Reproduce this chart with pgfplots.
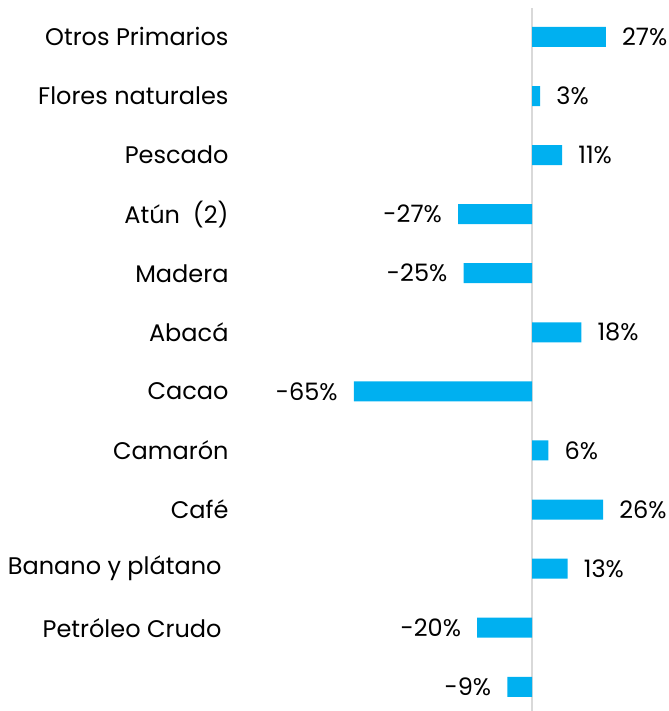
\documentclass[border=0pt]{standalone}
\usepackage{fontspec}
\setmainfont{Poppins}
\usepackage{pgfplots}
\pgfplotsset{compat=1.18}
\definecolor{barblue}{HTML}{00B0F0}
\definecolor{axisgray}{HTML}{D9D9D9}
\begin{document}
\begin{tikzpicture}
\begin{axis}[
 name=ax, at={(0,0)}, anchor=south west,
 scale only axis, width=434bp, height=703bp,
 xmin=-108.4, xmax=50, ymin=-0.41, ymax=11.49,
 xbar, bar width=20bp, bar shift=0pt,
 axis line style={draw=none},
 xtick=\empty,
 ytick={0,...,11},
 yticklabels={{}, {Petróleo Crudo\hspace*{7bp}}, {Banano y plátano\hspace*{7bp}}, {Café}, {Camarón}, {Cacao}, {Abacá}, {Madera}, {Atún~~(2)}, {Pescado}, {Flores naturales}, {Otros Primarios}},
 major tick length=0pt,
 tick label style={font=\fontsize{24bp}{28bp}\selectfont, text=black},
 yticklabel style={xshift=-3bp},
 nodes near coords={\pgfmathprintnumber[assume math mode=true]{\pgfplotspointmeta}\%},
 nodes near coords style={font=\fontsize{24bp}{28bp}\selectfont, text=black, inner xsep=16bp},
 nodes near coords align=horizontal,
 clip=false,
]
\draw[axisgray, line width=2bp] (axis cs:0,-0.41) -- (axis cs:0,11.49);
\addplot[fill=barblue, draw=none] coordinates {(-9,0) (-20,1) (13,2) (26,3) (6,4) (-65,5) (18,6) (-25,7) (-27,8) (11,9) (3,10) (27,11)};
\end{axis}
\pgfresetboundingbox
\path ([xshift=-235bp]ax.south west) rectangle ([yshift=8bp]ax.north east);
\end{tikzpicture}
\end{document}
